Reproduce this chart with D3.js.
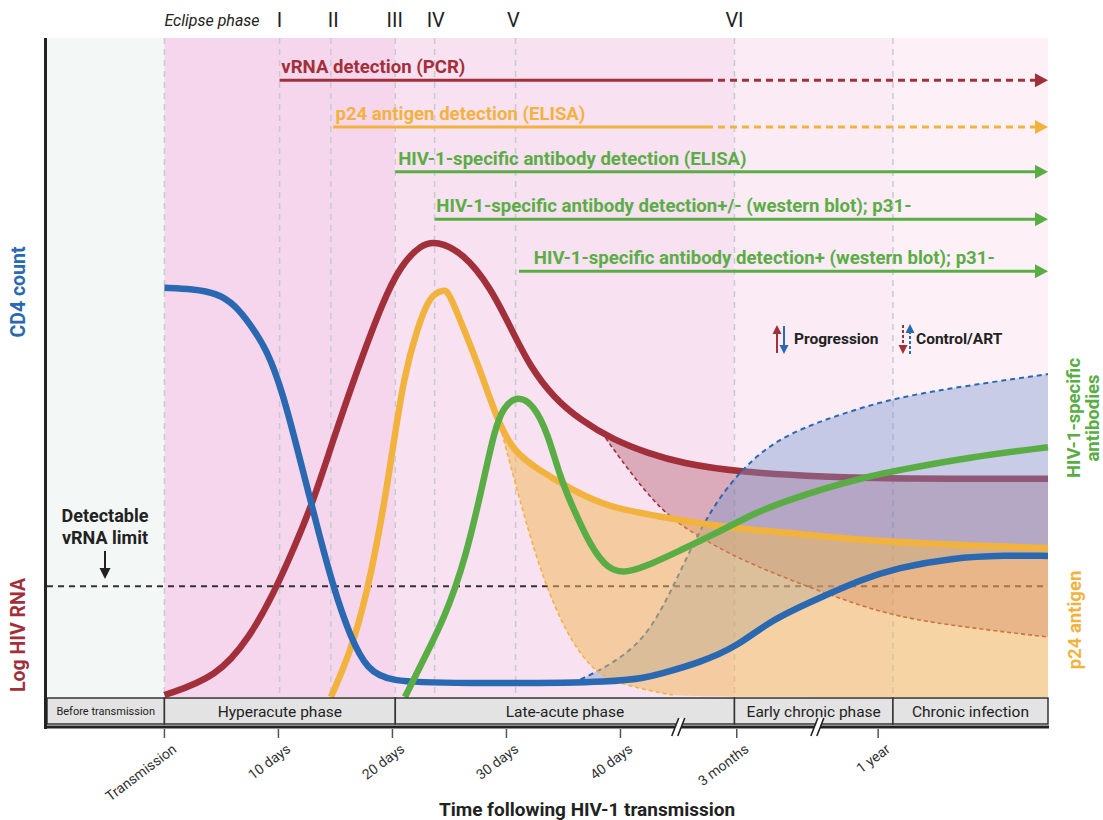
<!DOCTYPE html>
<html><head><meta charset="utf-8">
<script src="https://cdn.jsdelivr.net/npm/d3@7"></script>
<style>body{margin:0;background:#fff;} text{font-family:Roboto,"Open Sans",sans-serif;}</style>
</head><body><svg id="c" width="1103" height="820"></svg>
<script>
// ---------- DATA ----------
const tickPos = [0, 10, 20, 30, 40, 50.2, 62.6];
const tickLabels = ["Transmission", "10 days", "20 days", "30 days", "40 days", "3 months", "1 year"];
const phaseBounds = [-10.3, 0, 20.25, 50, 63.9, 77.5];
const phaseNames = ["Before transmission", "Hyperacute phase", "Late-acute phase", "Early chronic phase", "Chronic infection"];
const stageLinePos = [0, 10.1, 14.6, 20.25, 23.7, 30.8, 50, 63.9];
const numerals = ["I", "II", "III", "IV", "V", "VI"];
const numeralPos = [10.1, 14.8, 20.2, 23.8, 30.6, 50];
const breakPos = [45.2, 57.4];
const detLabels = ["vRNA detection (PCR)", "p24 antigen detection (ELISA)", "HIV-1-specific antibody detection (ELISA)",
  "HIV-1-specific antibody detection+/- (western blot); p31-", "HIV-1-specific antibody detection+ (western blot); p31-"];
const detStart = [10.1, 14.8, 20.25, 23.7, 31.1];
const detSolidEnd = [47.5, 47.5, 77.5, 77.5, 77.5];
const detLabelPos = [10.25, 15.0, 20.5, 23.85, 32.4];
const detLevel = [93.6, 86.5, 79.7, 72.5, 64.6];
const detSeries = ["red", "orange", "green", "green", "green"];
const limitLevel = 16.8;

const cd4 = [[0,62.1],[2.5,61.9],[4.6,61.3],[6.2,59.5],[7.5,56.6],[9.0,52.7],[10.4,46.1],[11.9,36.0],[13.4,25.8],[14.8,16.7],[16.3,9.1],[17.8,4.1],[19.8,2.3],[25.1,2.1],[40.5,2.1],[43.7,3.6],[46.9,5.2],[50.2,7.6],[53.2,11.7],[57.4,15.0],[61.1,17.8],[64.3,19.6],[69.0,21.1],[73.8,21.5],[77.5,21.4]];
const cd4Control = [[35.8,2.1],[38.9,4.6],[42.1,8.6],[44.4,15.8],[46.9,25.3],[49.1,31.4],[51.7,36.4],[54.8,40.1],[59.6,43.1],[64.3,45.5],[70.6,47.3],[77.5,49.0]];
const vrna = [[0,0.3],[4.6,3.0],[7.5,9.1],[9.6,15.8],[11.3,22.3],[13.1,29.9],[14.8,39.0],[16.9,49.6],[19.2,60.2],[20.7,65.4],[22.5,68.7],[23.9,69.2],[26.2,67.4],[28.6,62.2],[30.6,55.2],[32.1,50.1],[34.1,45.5],[36.5,42.0],[39.4,39.0],[42.4,37.0],[45.3,35.5],[50.5,34.1],[58.0,33.4],[64.3,33.1],[77.5,33.1]];
const vrnaControl = [[38.7,39.3],[40.5,34.9],[43.7,27.9],[46.9,24.3],[50.1,21.2],[54.8,17.8],[59.6,14.7],[64.3,12.1],[70.6,10.5],[77.5,9.1]];
const p24 = [[14.6,0],[16.3,6.7],[17.8,15.8],[19.2,28.4],[20.1,38.5],[21.0,48.6],[22.2,56.1],[23.3,61.0],[24.5,61.8],[24.9,61.6],[26.2,56.1],[27.7,49.6],[29.2,42.0],[30.6,37.3],[32.6,34.7],[35.8,31.4],[38.9,28.8],[43.7,27.3],[46.9,26.4],[50.2,25.6],[54.8,24.9],[61.1,23.8],[67.5,23.2],[77.5,22.6]];
const p24Control = [[29.6,40.1],[31.1,30.3],[32.6,21.2],[34.2,13.7],[35.8,8.2],[37.4,4.6],[38.9,2.6],[42.1,1.1],[44.6,0.3],[45.6,0],[77.5,0]];
const antibodies = [[21.1,0],[22.7,5.6],[24.5,11.7],[26.4,20.8],[28.0,32.9],[28.9,40.1],[29.7,44.0],[31.0,45.8],[32.4,44.3],[33.6,40.1],[34.7,33.4],[35.8,28.8],[37.4,22.8],[38.9,19.4],[40.3,18.8],[42.1,19.7],[45.3,22.3],[48.5,24.9],[51.7,27.9],[54.8,29.9],[58.0,31.7],[61.1,33.2],[64.3,34.4],[70.6,36.4],[77.5,37.9]];

// ---------- STYLE ----------
const C = {red:"#a2303b", blue:"#2a69b1", orange:"#f2b33e", green:"#5aad45"};
const bgColors = ["#f3f7f6","#f6d6ec","#f8e1f1","#faebf5","#fdf1f7"];

const svg = d3.select("#c");
const x = d3.scaleLinear().domain([-10.3, 77.5]).range([47, 1048]);
const y = d3.scaleLinear().domain([0, 100]).range([697, 38]);
const line = d3.line().x(d => x(d[0])).y(d => y(d[1])).curve(d3.curveBasis);
function band(upper, lower) {
  return line(upper) + "L" + line(lower.slice().reverse()).substring(1) + "Z";
}

// backgrounds
svg.selectAll("rect.bg").data(phaseNames).join("rect")
  .attr("x", (d,i) => x(phaseBounds[i])).attr("width", (d,i) => x(phaseBounds[i+1]) - x(phaseBounds[i]))
  .attr("y", y(100)).attr("height", y(0) - y(100)).attr("fill", (d,i) => bgColors[i]);

// stage lines
svg.selectAll("line.stage").data(stageLinePos).join("line")
  .attr("x1", d => x(d)).attr("x2", d => x(d)).attr("y1", y(100)).attr("y2", y(0))
  .attr("stroke", "#c6ccce").attr("stroke-width", 1.5).attr("stroke-dasharray", "6,5");

// detection limit
svg.append("line").attr("x1", x(-10.3)).attr("x2", x(77.5)).attr("y1", y(limitLevel)).attr("y2", y(limitLevel))
  .attr("stroke", "#333").attr("stroke-width", 2).attr("stroke-dasharray", "6,5");

// red fill + red line
svg.append("path").attr("d", band([vrnaControl[0], ...vrna.filter(d => d[0] > 38.7)], vrnaControl))
  .attr("fill", "rgb(160,60,80)").attr("fill-opacity", 0.33);
svg.append("path").attr("d", line(vrna)).attr("fill", "none").attr("stroke", C.red).attr("stroke-width", 6.5);

// blue fill
svg.append("path").attr("d", band(cd4Control, cd4.filter(d => d[0] > 35.8)))
  .attr("fill", "rgb(120,150,206)").attr("fill-opacity", 0.4);

// dashed control lines (red, blue)
svg.append("path").attr("d", line(vrnaControl)).attr("fill", "none")
  .attr("stroke", C.red).attr("stroke-width", 1.6).attr("stroke-dasharray", "4,3");
svg.append("path").attr("d", line(cd4Control)).attr("fill", "none")
  .attr("stroke", C.blue).attr("stroke-width", 2).attr("stroke-dasharray", "5,4");

// orange fill
svg.append("path").attr("d", band([p24Control[0], ...p24.filter(d => d[0] > 29.6)], p24Control))
  .attr("fill", "rgb(241,184,82)").attr("fill-opacity", 0.5);
svg.append("path").attr("d", line(p24Control.filter(d => d[1] > 0.2))).attr("fill", "none")
  .attr("stroke", C.orange).attr("stroke-width", 1.6).attr("stroke-dasharray", "4,3");

// solid lines
[[p24, C.orange], [cd4, C.blue], [antibodies, C.green]].forEach(([d, c]) => {
  svg.append("path").attr("d", line(d)).attr("fill", "none").attr("stroke", c).attr("stroke-width", 6.5);
});

// detection arrows
detLabels.forEach((lab, i) => {
  const c = C[detSeries[i]], yy = y(detLevel[i]), xe = x(77.5);
  const solidEnd = Math.min(x(detSolidEnd[i]), xe - 12);
  svg.append("line").attr("x1", x(detStart[i])).attr("x2", solidEnd).attr("y1", yy).attr("y2", yy)
    .attr("stroke", c).attr("stroke-width", 3);
  if (detSolidEnd[i] < 77.5) {
    svg.append("line").attr("x1", solidEnd).attr("x2", xe - 12).attr("y1", yy).attr("y2", yy)
      .attr("stroke", c).attr("stroke-width", 3).attr("stroke-dasharray", "7,5");
  }
  svg.append("path").attr("d", `M${xe},${yy}L${xe-13},${yy-7}L${xe-13},${yy+7}Z`).attr("fill", c);
  svg.append("text").attr("x", x(detLabelPos[i])).attr("y", yy - 7).text(lab)
    .attr("fill", c).attr("font-size", 18.6).attr("font-weight", "bold");
});

// top labels
svg.append("text").attr("x", x(0)).attr("y", 26).text("Eclipse phase")
  .attr("font-size", 16).attr("font-style", "italic").attr("fill", "#222");
svg.selectAll("text.num").data(numerals).join("text")
  .attr("x", (d,i) => x(numeralPos[i])).attr("y", 27).attr("text-anchor", "middle")
  .attr("font-size", 20).attr("fill", "#222").text(d => d);

// phase bar
const bar = svg.append("g");
bar.selectAll("rect").data(phaseNames).join("rect")
  .attr("x", (d,i) => x(phaseBounds[i])).attr("width", (d,i) => x(phaseBounds[i+1]) - x(phaseBounds[i]))
  .attr("y", 698).attr("height", 26).attr("fill", "#e3e3e3").attr("stroke", "#333").attr("stroke-width", 1.5);
bar.selectAll("text").data(phaseNames).join("text")
  .attr("x", (d,i) => (x(phaseBounds[i]) + x(phaseBounds[i+1])) / 2).attr("y", 711).attr("dy", "0.36em")
  .attr("text-anchor", "middle").attr("font-size", (d,i) => i === 0 ? 11 : 15.5).attr("fill", "#222").text(d => d);

// axes
svg.append("line").attr("x1", 45.5).attr("x2", 45.5).attr("y1", y(100)).attr("y2", 729)
  .attr("stroke", "#222").attr("stroke-width", 3);
svg.append("line").attr("x1", 44).attr("x2", x(77.5) + 1).attr("y1", 727).attr("y2", 727)
  .attr("stroke", "#222").attr("stroke-width", 3);
svg.selectAll("line.tick").data(tickPos).join("line")
  .attr("x1", d => x(d)).attr("x2", d => x(d)).attr("y1", 729).attr("y2", 738)
  .attr("stroke", "#555").attr("stroke-width", 1.5);
svg.selectAll("text.tick").data(tickLabels).join("text")
  .attr("transform", (d,i) => `translate(${x(tickPos[i]) + 13},${751}) rotate(-37)`)
  .attr("text-anchor", "end").attr("font-size", 14).attr("fill", "#333").text(d => d);

// axis breaks
breakPos.forEach(b => {
  const bx = x(b);
  svg.append("path").attr("d", `M${bx-8},${736}L${bx-1},${718}L${bx+5},${718}L${bx-2},${736}Z`).attr("fill", "#fff");
  [-8, -2].forEach(o => {
    svg.append("line").attr("x1", bx + o).attr("y1", 736).attr("x2", bx + o + 7).attr("y2", 718)
      .attr("stroke", "#222").attr("stroke-width", 1.6);
  });
});

svg.append("text").attr("x", 587).attr("y", 816).attr("text-anchor", "middle")
  .attr("font-size", 19).attr("font-weight", "bold").attr("fill", "#222").text("Time following HIV-1 transmission");

// side labels
function vtext(tx, ty, txt, col, size) {
  svg.append("text").attr("transform", `translate(${tx},${ty}) rotate(-90)`).attr("text-anchor", "middle")
    .attr("dy", "0.36em").attr("font-size", size).attr("font-weight", "bold").attr("fill", col).text(txt);
}
vtext(18, 292, "CD4 count", C.blue, 19.5);
vtext(18, 635, "Log HIV RNA", C.red, 19.5);
vtext(1073, 418, "HIV-1-specific", C.green, 18.5);
vtext(1092, 418, "antibodies", C.green, 18.5);
vtext(1074, 620, "p24 antigen", C.orange, 18.5);

// detection limit annotation
svg.append("text").attr("x", 105).attr("y", 522).attr("text-anchor", "middle").attr("font-size", 18)
  .attr("font-weight", "bold").attr("fill", "#222").text("Detectable");
svg.append("text").attr("x", 105).attr("y", 544).attr("text-anchor", "middle").attr("font-size", 18)
  .attr("font-weight", "bold").attr("fill", "#222").text("vRNA limit");
svg.append("line").attr("x1", 105).attr("x2", 105).attr("y1", 551).attr("y2", 570).attr("stroke", "#222").attr("stroke-width", 2);
svg.append("path").attr("d", "M105,579L99.5,568L110.5,568Z").attr("fill", "#222");

// legend
function arrow(ax, y1, y2, col, dashed) {
  const dir = y2 < y1 ? -1 : 1;
  svg.append("line").attr("x1", ax).attr("x2", ax).attr("y1", y1).attr("y2", y2 - dir * 7)
    .attr("stroke", col).attr("stroke-width", 2).attr("stroke-dasharray", dashed ? "3,2" : null);
  svg.append("path").attr("d", `M${ax},${y2}L${ax-4.5},${y2 - dir*9}L${ax+4.5},${y2 - dir*9}Z`).attr("fill", col);
}
arrow(777, 353, 325, C.red, false);
arrow(784, 326, 354, C.blue, false);
svg.append("text").attr("x", 794).attr("y", 344).attr("font-size", 15.5).attr("font-weight", "bold").attr("fill", "#222").text("Progression");
arrow(903, 325, 354, C.red, true);
arrow(910, 354, 324, C.blue, true);
svg.append("text").attr("x", 916).attr("y", 344).attr("font-size", 15.5).attr("font-weight", "bold").attr("fill", "#222").text("Control/ART");
</script></body></html>
